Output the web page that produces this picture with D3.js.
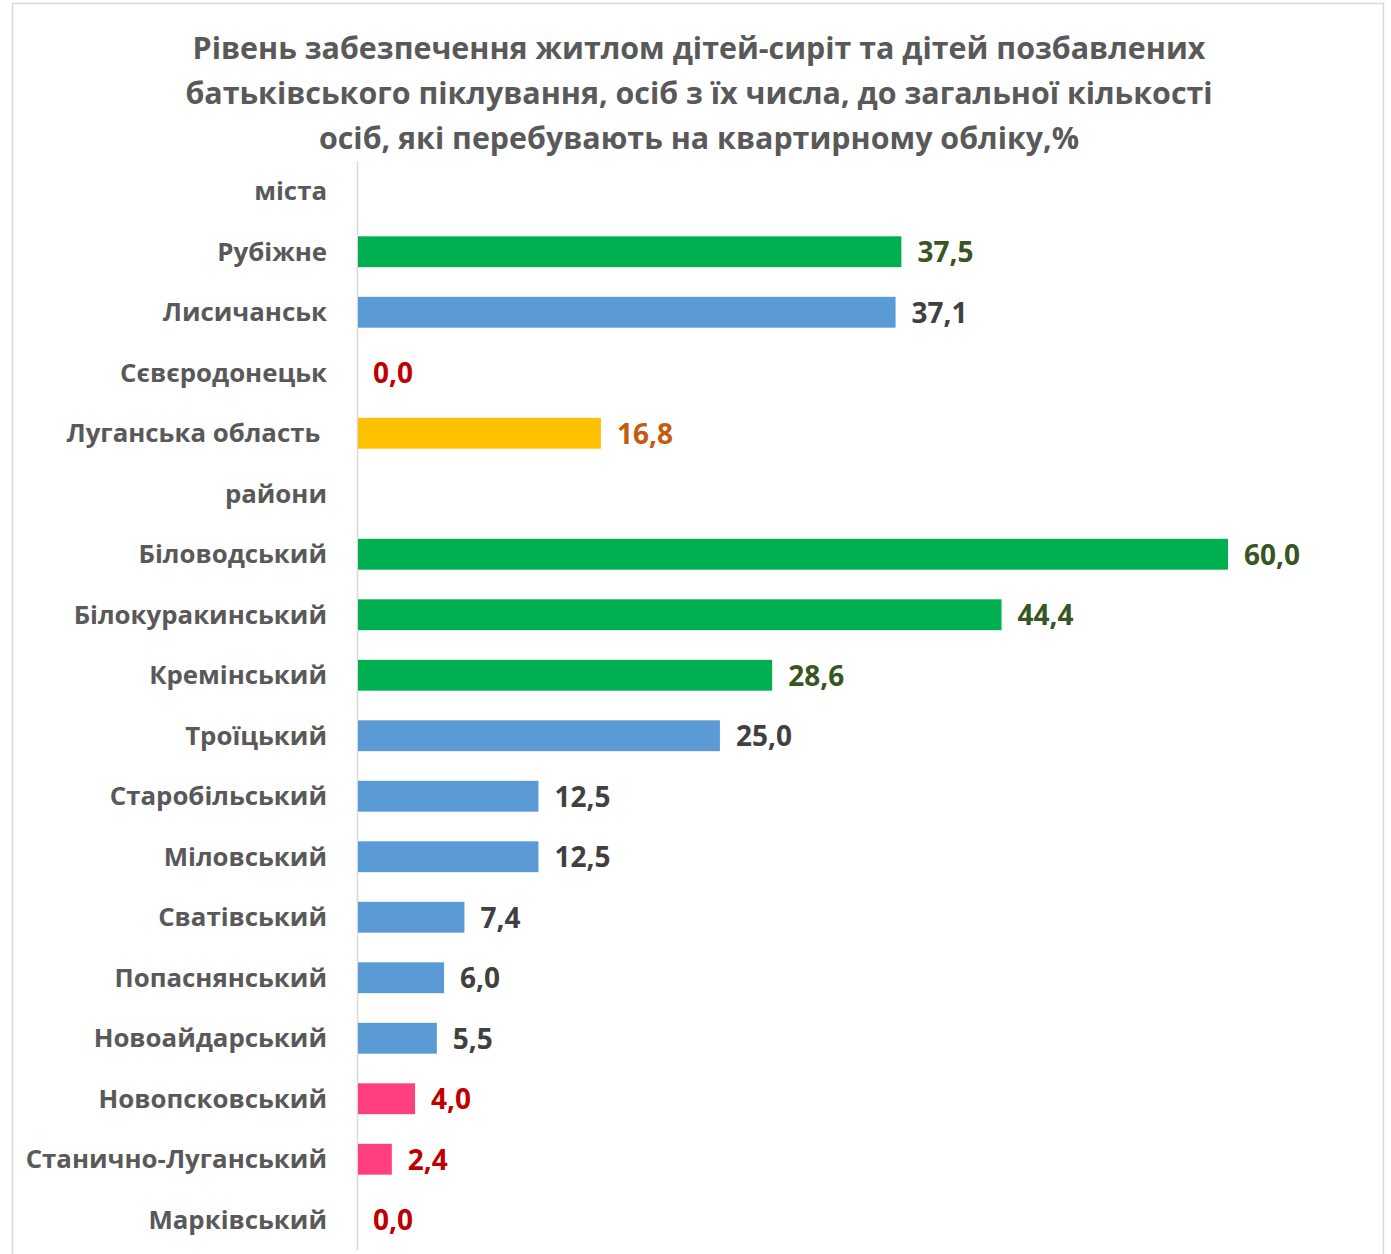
<!DOCTYPE html>
<html><head><meta charset="utf-8">
<script src="https://cdn.jsdelivr.net/npm/d3@7"></script>
<style>body{margin:0;background:#fff;} svg{display:block;}</style>
</head><body>
<script>
const categories = ["міста","Рубіжне","Лисичанськ","Сєвєродонецьк","Луганська область ","райони","Біловодський","Білокуракинський","Кремінський","Троїцький","Старобільський","Міловський","Сватівський","Попаснянський","Новоайдарський","Новопсковський","Станично-Луганський","Марківський"];
const values = [null,37.5,37.1,0.0,16.8,null,60.0,44.4,28.6,25.0,12.5,12.5,7.4,6.0,5.5,4.0,2.4,0.0];
const groups = ["none","high","mid","low","region","none","high","high","high","mid","mid","mid","mid","mid","mid","low","low","low"];
const titleLines = ["Рівень забезпечення житлом дітей-сиріт та дітей позбавлених","батьківського піклування, осіб з їх числа, до загальної кількості","осіб, які перебувають на квартирному обліку,%"];

const barColor = {high:"#00B050", mid:"#5B9BD5", low:"#FF3F7F", region:"#FFC000"};
const labelColor = {high:"#375623", mid:"#404040", low:"#C00000", region:"#C55A11"};

const W=1391,H=1254;
const svg=d3.select("body").append("svg").attr("width",W).attr("height",H);
const font="'Open Sans', sans-serif";
svg.append("rect").attr("x",12.5).attr("y",3.5).attr("width",1371).attr("height",1270).attr("fill","none").attr("stroke","#D9D9D9").attr("stroke-width",1.5);

const tg=svg.append("g");
titleLines.forEach((t,i)=>{
  tg.append("text").attr("x",699).attr("y",59+i*45).attr("text-anchor","middle")
   .attr("font-family",font).attr("font-weight",700).attr("font-size",30.4).attr("fill","#595959").text(t);
});

const x=d3.scaleLinear().domain([0,60]).range([357,1228]);
const y=d3.scaleBand().domain(categories).range([161,1250]).paddingInner(0.49).paddingOuter(0.245);

svg.append("line").attr("x1",357.5).attr("x2",357.5).attr("y1",161).attr("y2",1250).attr("stroke","#D9D9D9").attr("stroke-width",1.5);

const yAxis=d3.axisLeft(y).tickSize(0).tickPadding(30);
const ga=svg.append("g").attr("transform","translate(357,0)").call(yAxis);
ga.select(".domain").remove();
ga.selectAll("text").attr("font-family",font).attr("font-weight",700).attr("font-size",25.8).attr("fill","#595959").attr("dy","0.35em").style("white-space","pre");

const data=categories.map((c,i)=>({c,v:values[i],g:groups[i]})).filter(d=>d.v!==null);
svg.selectAll("rect.bar").data(data).join("rect").attr("class","bar")
  .attr("x",x(0)+1).attr("y",d=>y(d.c)).attr("height",y.bandwidth())
  .attr("width",d=>Math.max(0,x(d.v)-x(0)-1)).attr("fill",d=>barColor[d.g]);
svg.selectAll("text.val").data(data).join("text").attr("class","val")
  .attr("x",d=>x(d.v)+16).attr("y",d=>y(d.c)+y.bandwidth()/2).attr("dy","0.38em")
  .attr("font-family",font).attr("font-weight",700).attr("font-size",28)
  .attr("fill",d=>labelColor[d.g]).text(d=>d.v.toFixed(1).replace(".",","));
</script>
</body></html>
